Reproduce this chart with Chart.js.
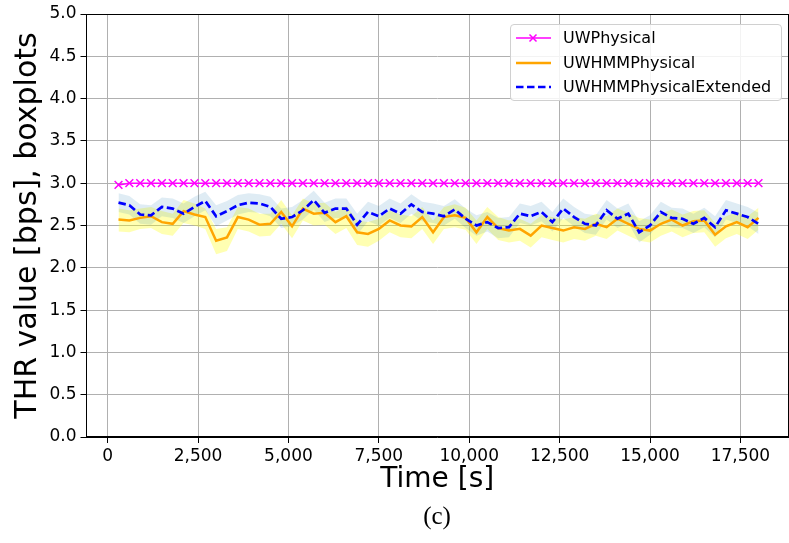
<!DOCTYPE html>
<html>
<head>
<meta charset="utf-8">
<script src="https://cdn.jsdelivr.net/npm/chart.js@4.4.1/dist/chart.umd.min.js"></script>
<style>
  html, body { margin: 0; padding: 0; background: #fff; }
  #wrap { position: relative; width: 789px; height: 543px; }
  #legend {
    position: absolute; left: 510px; top: 24px; width: 272px; height: 77px;
    border: 1px solid #d0d0d0; border-radius: 4px; background: rgba(255,255,255,0.85);
    box-sizing: border-box; font-family: "DejaVu Sans", sans-serif; font-size: 16px; color: #000;
  }
  .row { position: absolute; left: 0; width: 100%; height: 24px; }
  .row svg { position: absolute; left: 5px; top: 0; }
  .row span { position: absolute; left: 52px; top: 2px; line-height: 20px; white-space: nowrap; }
  #caption {
    position: absolute; left: 387px; top: 501px; width: 100px; text-align: center;
    font-family: "Liberation Serif", "DejaVu Serif", serif; font-size: 25px; line-height: 30px; color: #000;
  }
</style>
</head>
<body>
<div id="wrap">
  <canvas id="c" width="789" height="543"></canvas>
  <div id="legend">
    <div class="row" style="top:1px">
      <svg width="36" height="24"><line x1="0" y1="12" x2="35" y2="12" stroke="#ff00ff" stroke-width="1.5"/>
        <path d="M13.5 8.5 L20.5 15.5 M20.5 8.5 L13.5 15.5" stroke="#ff00ff" stroke-width="1.5"/></svg>
      <span>UWPhysical</span>
    </div>
    <div class="row" style="top:26px">
      <svg width="36" height="24"><line x1="0" y1="12" x2="35" y2="12" stroke="#ffa500" stroke-width="2.5"/></svg>
      <span>UWHMMPhysical</span>
    </div>
    <div class="row" style="top:50px">
      <svg width="36" height="24"><line x1="0" y1="12" x2="35" y2="12" stroke="#0000ff" stroke-width="2.7" stroke-dasharray="7.5 3.5"/></svg>
      <span>UWHMMPhysicalExtended</span>
    </div>
  </div>
  <div id="caption">(c)</div>
</div>
<script>
// Simulation time of each sample [s]
const times = [300, 600, 900, 1200, 1500, 1800, 2100, 2400, 2700, 3000,
  3300, 3600, 3900, 4200, 4500, 4800, 5100, 5400, 5700, 6000,
  6300, 6600, 6900, 7200, 7500, 7800, 8100, 8400, 8700, 9000,
  9300, 9600, 9900, 10200, 10500, 10800, 11100, 11400, 11700, 12000,
  12300, 12600, 12900, 13200, 13500, 13800, 14100, 14400, 14700, 15000,
  15300, 15600, 15900, 16200, 16500, 16800, 17100, 17400, 17700, 18000];

// UWPhysical throughput [bps]
const uwPhysical = [2.98, 3.0, 3.0, 3.0, 3.0, 3.0, 3.0, 3.0, 3.0, 3.0,
  3.0, 3.0, 3.0, 3.0, 3.0, 3.0, 3.0, 3.0, 3.0, 3.0,
  3.0, 3.0, 3.0, 3.0, 3.0, 3.0, 3.0, 3.0, 3.0, 3.0,
  3.0, 3.0, 3.0, 3.0, 3.0, 3.0, 3.0, 3.0, 3.0, 3.0,
  3.0, 3.0, 3.0, 3.0, 3.0, 3.0, 3.0, 3.0, 3.0, 3.0,
  3.0, 3.0, 3.0, 3.0, 3.0, 3.0, 3.0, 3.0, 3.0, 3.0];

// UWHMMPhysical median and spread
const hmmPhysical = [2.57, 2.56, 2.59, 2.61, 2.54, 2.52, 2.67, 2.63, 2.60, 2.32,
  2.36, 2.60, 2.57, 2.51, 2.52, 2.66, 2.49, 2.70, 2.64, 2.65,
  2.54, 2.61, 2.42, 2.40, 2.46, 2.56, 2.50, 2.49, 2.60, 2.42,
  2.60, 2.62, 2.59, 2.42, 2.60, 2.47, 2.44, 2.46, 2.38, 2.50,
  2.47, 2.44, 2.48, 2.46, 2.52, 2.48, 2.58, 2.52, 2.46, 2.44,
  2.52, 2.57, 2.50, 2.55, 2.56, 2.39, 2.49, 2.54, 2.48, 2.59];
const hmmHigh = [2.70, 2.68, 2.70, 2.72, 2.67, 2.64, 2.80, 2.76, 2.70, 2.46,
  2.48, 2.72, 2.70, 2.64, 2.64, 2.80, 2.62, 2.82, 2.76, 2.77,
  2.66, 2.73, 2.56, 2.54, 2.58, 2.68, 2.63, 2.61, 2.72, 2.56,
  2.72, 2.75, 2.71, 2.56, 2.72, 2.60, 2.56, 2.58, 2.52, 2.62,
  2.60, 2.57, 2.60, 2.58, 2.64, 2.61, 2.70, 2.65, 2.59, 2.57,
  2.64, 2.69, 2.63, 2.67, 2.68, 2.53, 2.61, 2.66, 2.61, 2.71];
const hmmLow = [2.43, 2.42, 2.46, 2.47, 2.40, 2.38, 2.53, 2.50, 2.46, 2.16,
  2.20, 2.46, 2.43, 2.37, 2.38, 2.52, 2.35, 2.56, 2.50, 2.51,
  2.40, 2.47, 2.27, 2.25, 2.32, 2.42, 2.36, 2.35, 2.46, 2.28,
  2.46, 2.48, 2.45, 2.28, 2.46, 2.33, 2.30, 2.32, 2.24, 2.36,
  2.33, 2.30, 2.34, 2.32, 2.38, 2.34, 2.44, 2.38, 2.32, 2.30,
  2.38, 2.43, 2.36, 2.41, 2.42, 2.25, 2.35, 2.40, 2.34, 2.45];

// UWHMMPhysicalExtended median and spread
const extPhysical = [2.77, 2.74, 2.63, 2.62, 2.72, 2.70, 2.64, 2.72, 2.79, 2.61,
  2.67, 2.74, 2.77, 2.76, 2.72, 2.58, 2.60, 2.68, 2.80, 2.65,
  2.70, 2.70, 2.51, 2.66, 2.61, 2.70, 2.64, 2.75, 2.66, 2.64,
  2.61, 2.69, 2.58, 2.50, 2.54, 2.47, 2.48, 2.64, 2.61, 2.66,
  2.54, 2.70, 2.60, 2.52, 2.50, 2.68, 2.58, 2.64, 2.42, 2.50,
  2.66, 2.59, 2.58, 2.52, 2.59, 2.48, 2.68, 2.64, 2.60, 2.52];
const extHigh = [2.88, 2.85, 2.75, 2.74, 2.83, 2.82, 2.76, 2.84, 2.90, 2.74,
  2.79, 2.86, 2.88, 2.87, 2.84, 2.70, 2.72, 2.80, 2.91, 2.77,
  2.82, 2.82, 2.64, 2.78, 2.73, 2.82, 2.76, 2.87, 2.78, 2.76,
  2.73, 2.81, 2.70, 2.62, 2.66, 2.59, 2.60, 2.76, 2.73, 2.78,
  2.66, 2.82, 2.72, 2.64, 2.62, 2.80, 2.70, 2.76, 2.55, 2.62,
  2.78, 2.71, 2.70, 2.64, 2.71, 2.61, 2.80, 2.76, 2.72, 2.65];
const extLow = [2.66, 2.63, 2.52, 2.51, 2.61, 2.59, 2.53, 2.61, 2.68, 2.49,
  2.56, 2.63, 2.66, 2.65, 2.61, 2.47, 2.49, 2.57, 2.69, 2.54,
  2.59, 2.59, 2.39, 2.55, 2.50, 2.59, 2.53, 2.64, 2.55, 2.53,
  2.50, 2.58, 2.47, 2.38, 2.43, 2.35, 2.36, 2.53, 2.50, 2.55,
  2.43, 2.59, 2.49, 2.41, 2.39, 2.57, 2.47, 2.53, 2.30, 2.39,
  2.55, 2.48, 2.47, 2.41, 2.48, 2.36, 2.57, 2.53, 2.49, 2.40];

// Axis ticks
const xTicks = [0, 2500, 5000, 7500, 10000, 12500, 15000, 17500];
const yTicks = [0.0, 0.5, 1.0, 1.5, 2.0, 2.5, 3.0, 3.5, 4.0, 4.5, 5.0];

const pts = arr => times.map((t, i) => ({ x: t, y: arr[i] }));
const FONT = '"DejaVu Sans", sans-serif';

// Black frame around the plotting area
const frame = {
  id: 'frame',
  afterDatasetsDraw(chart) {
    const { ctx, chartArea: a } = chart;
    ctx.save();
    ctx.strokeStyle = '#000';
    ctx.lineWidth = 1;
    ctx.strokeRect(Math.round(a.left) - 0.5, Math.round(a.top) + 0.5,
      Math.round(a.right - a.left), Math.round(a.bottom - a.top) - 1);
    ctx.restore();
  }
};

const band = (data, color, fill, order) => ({
  data: pts(data), borderWidth: 0, pointRadius: 0, backgroundColor: color,
  fill: fill, order: order, tension: 0
});

new Chart(document.getElementById('c'), {
  type: 'line',
  data: {
    datasets: [
      { label: 'UWPhysical', data: pts(uwPhysical), borderColor: '#ff00ff', borderWidth: 1.5,
        pointStyle: 'crossRot', pointRadius: 5.5, pointBorderWidth: 1.5,
        pointBorderColor: '#ff00ff', fill: false, order: 0 },
      { label: 'UWHMMPhysical', data: pts(hmmPhysical), borderColor: '#ffa500', borderWidth: 2.5,
        pointRadius: 0, fill: false, order: 2 },
      { label: 'UWHMMPhysicalExtended', data: pts(extPhysical), borderColor: '#0000ff', borderWidth: 2.7,
        borderDash: [7.5, 3.5], pointRadius: 0, fill: false, order: 1 },
      band(hmmHigh, 'rgba(255,255,0,0.3)', '+1', 4),
      band(hmmLow, 'rgba(0,0,0,0)', false, 4),
      band(extHigh, 'rgba(31,119,180,0.14)', '+1', 3),
      band(extLow, 'rgba(0,0,0,0)', false, 3)
    ]
  },
  options: {
    responsive: false,
    animation: false,
    devicePixelRatio: 1,
    layout: { autoPadding: false, padding: { top: 14, right: 1, bottom: 46.4, left: 0 } },
    plugins: { legend: { display: false }, tooltip: { enabled: false } },
    scales: {
      x: {
        type: 'linear', min: -585, max: 18816,
        afterBuildTicks: s => { s.ticks = xTicks.map(v => ({ value: v })); },
        afterFit: s => { s.height = 59.6; s.paddingLeft = 0; s.paddingRight = 0; },
        ticks: { callback: v => v.toLocaleString('en-US'), font: { family: FONT, size: 17 },
          color: '#000', padding: 3, maxRotation: 0, autoSkip: false },
        grid: { color: '#b0b0b0', lineWidth: 1, tickLength: 6, tickColor: '#000', tickWidth: 1 },
        border: { color: '#000', width: 1 },
        title: { display: true, text: 'Time [s]', color: '#000',
          font: { family: FONT, size: 28 }, padding: { top: 0, bottom: 0 } }
      },
      y: {
        type: 'linear', min: 0, max: 5,
        afterBuildTicks: s => { s.ticks = yTicks.map(v => ({ value: v })); },
        afterFit: s => { s.width = 86.5; s.paddingTop = 0; s.paddingBottom = 0; },
        ticks: { callback: v => v.toFixed(1), font: { family: FONT, size: 17 },
          color: '#000', padding: 4, autoSkip: false },
        grid: { color: '#b0b0b0', lineWidth: 1, tickLength: 6, tickColor: '#000', tickWidth: 1 },
        border: { color: '#000', width: 1 },
        title: { display: true, text: 'THR value [bps], boxplots', color: '#000',
          font: { family: FONT, size: 30 }, padding: { top: 10, bottom: 0 } }
      }
    }
  },
  plugins: [frame]
});
</script>
</body>
</html>
